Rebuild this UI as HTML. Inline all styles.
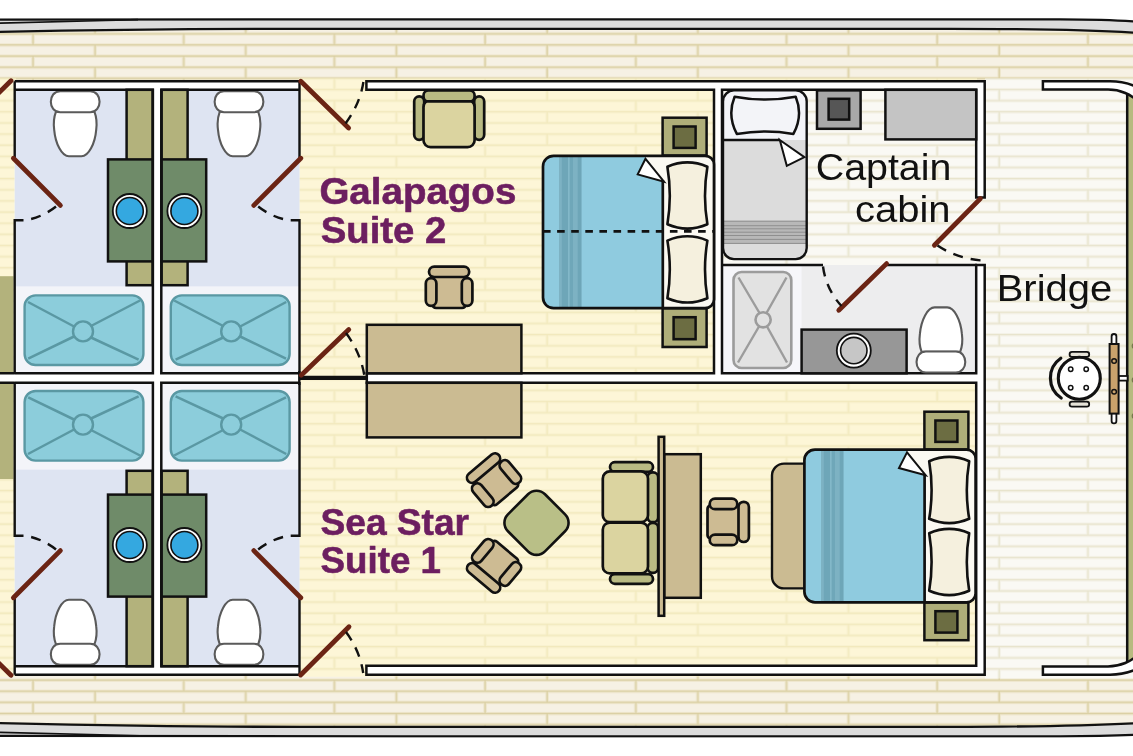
<!DOCTYPE html>
<html><head><meta charset="utf-8"><title>Deck plan</title>
<style>
html,body{margin:0;padding:0;background:#fff;overflow:hidden}
svg{display:block}
text{font-family:"Liberation Sans",sans-serif}
</style></head><body>
<svg width="1133" height="756" viewBox="0 0 1133 756">
<defs>
<g id="toilet" fill="#fff" stroke="#5a5a5a" stroke-width="2.1" stroke-linejoin="round">
<path d="M-19.3,20.6C-21.2,25.6 -21.8,32.6 -21,38.6C-19.8,52.6 -13.3,65.1 -6.3,65.1H6.3C13.3,65.1 19.8,52.6 21,38.6C21.8,32.6 21.2,25.6 19.3,20.6Z"/>
<path d="M-15,0H15C27.5,0 27.5,21 15,21H-15C-27.5,21 -27.5,0 -15,0Z"/>
</g>
<!-- plank patterns: rows 11.143 high, joints every 150.7 -->
<pattern id="pd" x="3" y="28.8" width="150.7" height="22.286" patternUnits="userSpaceOnUse">
<rect width="151" height="23" fill="#f6f1e4"/>
<path d="M0,5H151M0,16.143H151M30,5V16.143M92,16.143V23M92,0V5" stroke="#eee6cc" stroke-width="3.4" fill="none"/>
<path d="M0,5H151M0,16.143H151M30,5V16.143M92,16.143V23M92,0V5" stroke="#d9cea0" stroke-width="1.2" fill="none"/>
</pattern>
<pattern id="py" x="3" y="28.8" width="150.7" height="22.286" patternUnits="userSpaceOnUse">
<rect width="151" height="23" fill="#fdf6d7"/>
<path d="M0,5H151M0,16.143H151M30,5V16.143M92,16.143V23M92,0V5" stroke="#f9f2d0" stroke-width="3.4" fill="none"/>
<path d="M0,5H151M0,16.143H151M30,5V16.143M92,16.143V23M92,0V5" stroke="#f2e9bd" stroke-width="1.2" fill="none"/>
</pattern>
<pattern id="pw" x="3" y="28.8" width="150.7" height="22.286" patternUnits="userSpaceOnUse">
<rect width="151" height="23" fill="#faf9f4"/>
<path d="M0,5H151M0,16.143H151M30,5V16.143M92,16.143V23M92,0V5" stroke="#f4f2e7" stroke-width="3.4" fill="none"/>
<path d="M0,5H151M0,16.143H151M30,5V16.143M92,16.143V23M92,0V5" stroke="#e8e4cd" stroke-width="1.2" fill="none"/>
</pattern>
</defs>

<!-- DECK -->
<rect x="0" y="27" width="1133" height="702" fill="url(#pd)"/>

<!-- FLOORS -->
<g id="floors">
<rect x="0" y="78.3" width="16" height="598.4" fill="url(#py)"/>
<rect x="299" y="78.3" width="678" height="598.4" fill="url(#py)"/>
<rect x="722" y="80" width="264" height="186" fill="url(#pw)"/>
<path d="M985,78.3H1133V678.4H985Z" fill="url(#pw)"/>
</g>

<!-- HULL -->
<g id="hull" stroke="#111" stroke-width="2.3" fill="#dcdcdc" stroke-linejoin="round">
<path d="M-3,19.7C80,19.2 200,19 400,19.3L1060,19.3C1090,19.4 1115,20 1136,21.5L1136,32.8C1090,29.9 1010,28.8 950,28.8L260,28.8C170,28.9 80,30 -3,32Z"/>
<path d="M-3,23.1C40,22.3 90,20.9 138,19.7" fill="none" stroke-width="1.7"/>
<path d="M-3,735.8C80,736.3 200,736.5 400,736.3L1060,736.3C1090,736.2 1115,735.7 1136,734.7L1136,723.2C1090,725.6 1010,726.8 950,726.9L300,726.9C200,726.8 90,725 -3,723Z"/>
<path d="M-3,732.4C40,733.2 90,734.6 150,736" fill="none" stroke-width="1.7"/>
</g>
<rect x="0" y="0" width="1133" height="18" fill="#fff"/>
<rect x="0" y="737.7" width="1133" height="19" fill="#fff"/>

<!-- ===== BATHROOM BLOCK ===== -->
<g id="bathblock">
<rect x="14.7" y="81.3" width="284.6" height="593.4" fill="#fff"/>
<!-- horizontal wall to left edge -->
<rect x="0" y="373.3" width="16" height="9.5" fill="#fff"/>
<!-- olive blocks at far left -->
<rect x="-3" y="276.2" width="16.5" height="97.1" fill="#b3b27c"/>
<rect x="-3" y="382.8" width="16.5" height="96.2" fill="#b3b27c"/>
<path d="M-3,373.3H14.7M-3,382.8H14.7" stroke="#111" stroke-width="2.5" fill="none"/>
<defs>
<g id="bath">
 <!-- room fill -->
 <rect x="14.7" y="89.8" width="138.2" height="197" fill="#dee4f2"/>
 <rect x="14.7" y="286.5" width="138.2" height="86.8" fill="#f3f4f9"/>
 <!-- olive counter strip -->
 <rect x="126.6" y="89.8" width="26" height="195.4" fill="#b3b27c" stroke="#111" stroke-width="2.5"/>
 <!-- green vanity -->
 <rect x="108" y="159.4" width="44.6" height="102" fill="#6f8b69" stroke="#111" stroke-width="2.5"/>
 <circle cx="129.8" cy="211" r="17" fill="#fff" stroke="#111" stroke-width="1.8"/>
 <circle cx="129.8" cy="211" r="13.5" fill="#34a8e0" stroke="#111" stroke-width="1.6"/>
 <!-- toilet -->
 <use href="#toilet" transform="translate(75.2,91.2)"/>
 <!-- shower pan -->
 <rect x="24.6" y="295.4" width="118.8" height="69.6" rx="11" ry="11" fill="#8ccddb" stroke="#5a98a3" stroke-width="2.4"/>
 <path d="M28,302L75,327M140,300.5L91,326M28.2,358.6L74,336.5M138.6,359.6L91,337.5" stroke="#5a98a3" stroke-width="2.5" fill="none"/>
 <circle cx="83" cy="331.4" r="10" fill="#8ccddb" stroke="#5a98a3" stroke-width="2.4"/>
 <!-- inner wall lines -->
 <path d="M14.7,89.8H152.9V373.3H14.7" fill="none" stroke="#111" stroke-width="2.5"/>
 <!-- outer left wall with door gap -->
 <path d="M14.7,81.3V158M23.5,220.3H14.7V374" fill="none" stroke="#111" stroke-width="2.4"/>
 <!-- door -->
 <path d="M13.4,158.2L60.4,205.4" stroke="#6b2414" stroke-width="4.8" stroke-linecap="round" fill="none"/>
 <path d="M56,206.5C48,213 36,219 24,220.3" stroke="#111" stroke-width="2.4" stroke-dasharray="10,8" fill="none"/>
</g>
</defs>
<use href="#bath"/>
<use href="#bath" transform="translate(314.2,0) scale(-1,1)"/>
<use href="#bath" transform="translate(0,756) scale(1,-1)"/>
<use href="#bath" transform="translate(314.2,756) scale(-1,-1)"/>
<path d="M14.7,81.3H299.5M14.7,674.7H299.5M299.3,371V385" stroke="#111" stroke-width="2.4" fill="none"/>
<!-- partial doors of next block on far left -->
<path d="M-2,93.5L11,80.8M-2,662.5L11,675.2" stroke="#6b2414" stroke-width="4.8" stroke-linecap="round" fill="none"/>
</g>

<!-- ===== SUITE / CABIN WALLS ===== -->
<g id="mainwalls">
<!-- captain bath floor -->
<rect x="722" y="265" width="255" height="109" fill="#ededee"/>
<rect x="722" y="265" width="79.6" height="109" fill="#f6f6fa"/>
<!-- door-threshold line between suites -->
<path d="M299.3,377.8H367" stroke="#111" stroke-width="4.2" fill="none"/>
<path d="M366.4,81.3H984.7V197.5H976.2V89.8H722V373.3H976.2V265H984.7V674.7H366.4V665.8H976.2V382.8H366.8V373.3H714V89.8H366.4Z" fill="#fff" stroke="#111" stroke-width="2.5" stroke-linejoin="miter"/>
<!-- captain bath top wall (single line with door gap) -->
<path d="M722,265H823M886.4,265H977" stroke="#111" stroke-width="2.6" fill="none"/>
<!-- bridge walls -->
<path d="M1127.2,92L1138,95V661L1127.2,664Z" fill="#b7ba80" stroke="#111" stroke-width="2.5"/>
<path d="M1042.9,81.3H1110C1121,81.3 1129,83.2 1138,87.4V102C1132,94.5 1120,89.6 1108,89.6H1042.9Z" fill="#fff" stroke="#111" stroke-width="2.5"/>
<path d="M1042.9,674.7H1110C1121,674.7 1129,672.8 1138,668.6V654C1132,661.5 1120,666.4 1108,666.4H1042.9Z" fill="#fff" stroke="#111" stroke-width="2.5"/>
<circle cx="1134.6" cy="346" r="3" fill="#77784c"/><circle cx="1134.6" cy="380" r="3" fill="#77784c"/><circle cx="1134.6" cy="416" r="3" fill="#77784c"/>
</g>
<!-- ===== DOORS ===== -->
<g id="doors" fill="none">
<g stroke="#6b2414" stroke-width="4.8" stroke-linecap="round">
<path d="M300.8,81.2L348.6,128"/>
<path d="M301.2,375.2L348.8,329.6"/>
<path d="M300.6,675L349,626.8"/>
<path d="M980.4,198.6L934.4,245.2"/>
<path d="M886.6,263.6L838.8,310.2"/>
</g>
<g stroke="#111" stroke-width="2.4" stroke-dasharray="10,8">
<path d="M345.5,123.5C354,112 361,98 363.4,82" />
<path d="M346,333C355,345 362,360 364.4,376"/>
<path d="M346,632C355,644 361,658 363.2,673"/>
<path d="M937.5,245.5C950,254 966,259.5 983,260.6"/>
<path d="M823,266.5C825,282 832,296 841.5,306"/>
</g>
</g>

<!--WALLS-->
<!--FIXTURES-->
<!-- ===== SUITE 2 FURNITURE ===== -->
<defs>
<!-- small tan chair, back on top, origin at centre -->
<g id="chair" fill="#cdbb93" stroke="#111" stroke-width="2.7" stroke-linejoin="round">
 <path d="M-16.6,-12H16.6V16.5C16.6,18.6 15,20 13,20H-13C-15,20 -16.6,18.6 -16.6,16.5Z"/>
 <rect x="-20.1" y="-21.4" width="40.2" height="10.4" rx="5.2" ry="5.2"/>
 <rect x="-23.3" y="-9.8" width="10.6" height="27.6" rx="5.3" ry="5.3"/>
 <rect x="12.7" y="-9.8" width="10.6" height="27.6" rx="5.3" ry="5.3"/>
</g>
<!-- pillow (vertical), origin top-left corner; 40 wide, 57.6 tall corners -->
<path id="pillow" d="M0,0Q20,-8.6 40,0Q35.2,28.8 40,57.6Q20,66.2 0,57.6Q4.8,28.8 0,0Z" fill="#f5f0de" stroke="#111" stroke-width="2.6" stroke-linejoin="round"/>
<!-- nightstand 44x38 -->
<g id="nstand" stroke="#111" stroke-width="2.5">
 <rect x="0" y="0" width="44" height="37.8" fill="#afae79"/>
 <rect x="11" y="8.8" width="22" height="21.4" fill="#6c6d42"/>
</g>
</defs>

<g id="suite2">
<!-- armchair -->
<g stroke="#111" stroke-width="2.7" stroke-linejoin="round">
 <rect x="414.2" y="96.4" width="10" height="43.4" rx="5" ry="5" fill="#b9ba83"/>
 <rect x="474.2" y="96.4" width="10" height="43.4" rx="5" ry="5" fill="#b9ba83"/>
 <rect x="423.5" y="100" width="51.1" height="47.2" rx="7" ry="7" fill="#dbd4a0"/>
 <rect x="423.5" y="90.4" width="51.1" height="11" rx="5" ry="5" fill="#b9ba83"/>
</g>
<use href="#chair" transform="translate(449.1,288)"/>
<!-- wardrobes -->
<rect x="366.8" y="324.8" width="154.6" height="48.5" fill="#cbbb92" stroke="#111" stroke-width="2.5"/>
<rect x="366.8" y="382.8" width="154.6" height="54.6" fill="#cbbb92" stroke="#111" stroke-width="2.5"/>
<!-- nightstands -->
<use href="#nstand" transform="translate(662.6,117.7)"/>
<use href="#nstand" transform="translate(662.6,308.2) scale(1,1.026)"/>
<!-- bed -->
<path d="M553.6,155.8H705C710,155.8 714,159.5 714,164.5V299.5C714,304.5 710,308.2 705,308.2H553.6C547.7,308.2 543,303.5 543,297.6V166.4C543,160.5 547.7,155.8 553.6,155.8Z" fill="#fbf9f2"/>
<path d="M553.6,155.8H644.5L662.8,181.3V308.2H553.6C547.7,308.2 543,303.5 543,297.6V166.4C543,160.5 547.7,155.8 553.6,155.8Z" fill="#8fcbdf"/>
<g id="stripes"><rect x="559" y="156" width="22.4" height="152" fill="#7db2c3"/>
<rect x="561.8" y="156" width="6.4" height="152" fill="#6ea6b8"/>
<rect x="568.2" y="156" width="1.5" height="152" fill="#86bbcb"/>
<rect x="569.7" y="156" width="3.3" height="152" fill="#6fa7b9"/>
<rect x="577.7" y="156" width="3.7" height="152" fill="#6ea6b8"/></g>
<path d="M553.6,155.8H705C710,155.8 714,159.5 714,164.5V299.5C714,304.5 710,308.2 705,308.2H553.6C547.7,308.2 543,303.5 543,297.6V166.4C543,160.5 547.7,155.8 553.6,155.8ZM662.8,180V308.2" fill="none" stroke="#111" stroke-width="2.7"/>
<use href="#pillow" transform="translate(667.4,166.7)"/>
<use href="#pillow" transform="translate(667.4,240.6)"/>
<path d="M645.5,158.8L637.7,174.4L664,181.6Z" fill="#fff" stroke="#111" stroke-width="2" stroke-linejoin="miter"/>
<path d="M543,231.4H714" stroke="#111" stroke-width="2.6" stroke-dasharray="7.6,6.5" fill="none"/>
</g>

<!-- ===== CAPTAIN CABIN ===== -->
<g id="captain">
<path d="M734,90.4H795.7C801.8,90.4 806.7,95.3 806.7,101.4V248.1C806.7,254.2 801.8,259.1 795.7,259.1H734C727.9,259.1 723,254.2 723,248.1V101.4C723,95.3 727.9,90.4 734,90.4Z" fill="#dcdcdc"/>
<path d="M734,90.4H795.7C801.8,90.4 806.7,95.3 806.7,101.4V140H723V101.4C723,95.3 727.9,90.4 734,90.4Z" fill="#f3f4f8"/>
<rect x="723" y="220.8" width="83.7" height="23" fill="#b8b8b8"/>
<path d="M723,221.2H806.7M723,225.7H806.7M723,228.8H806.7M723,232.2H806.7M723,235.5H806.7M723,239.4H806.7M723,243.4H806.7" stroke="#8f8f8f" stroke-width="1" fill="none"/>
<path d="M734,90.4H795.7C801.8,90.4 806.7,95.3 806.7,101.4V248.1C806.7,254.2 801.8,259.1 795.7,259.1H734C727.9,259.1 723,254.2 723,248.1V101.4C723,95.3 727.9,90.4 734,90.4ZM723,140H780" fill="none" stroke="#111" stroke-width="2.4"/>
<path d="M734.6,96.7Q765.2,102.4 795.7,96.7Q803.4,115.3 793.4,133.9Q765.2,129.2 736.8,133.9Q727,115.3 734.6,96.7Z" fill="#f3f4f8" stroke="#111" stroke-width="2.5" stroke-linejoin="round"/>
<path d="M779.8,140L804.4,157.1L786.8,165.8Z" fill="#fff" stroke="#111" stroke-width="2"/>
<!-- nightstand grey -->
<rect x="817" y="90.4" width="43.6" height="38.4" fill="#a8a8a8" stroke="#111" stroke-width="2.5"/>
<rect x="828.6" y="98.8" width="20.6" height="20.8" fill="#565656" stroke="#111" stroke-width="2.5"/>
<!-- desk grey -->
<rect x="885.4" y="89.8" width="90.8" height="49.6" fill="#c4c4c4" stroke="#111" stroke-width="2.5"/>
<!-- bath: shower pan -->
<rect x="733.5" y="272" width="57.8" height="96" rx="8" ry="8" fill="#e2e2e2" stroke="#9c9c9c" stroke-width="2.6"/>
<path d="M738.5,277.5L759.5,313M786.5,277.5L766.5,313M738,362.5L759,326.5M787,362.5L767,326.5" stroke="#9c9c9c" stroke-width="2.4" fill="none"/>
<circle cx="763.1" cy="319.8" r="7.6" fill="#e2e2e2" stroke="#9c9c9c" stroke-width="2.6"/>
<!-- vanity -->
<rect x="801.6" y="329.6" width="105" height="43.7" fill="#979797" stroke="#111" stroke-width="2.5"/>
<circle cx="853.8" cy="350.6" r="17" fill="#fff" stroke="#111" stroke-width="1.8"/>
<circle cx="853.8" cy="350.6" r="13.2" fill="#c6c6c6" stroke="#111" stroke-width="1.6"/>
<!-- toilet -->
<use href="#toilet" transform="translate(940.9,372.5) scale(1,-1)"/>
</g>

<!-- ===== SUITE 1 FURNITURE ===== -->
<g id="suite1">
<!-- rotated chairs and side table -->
<use href="#chair" transform="translate(494,480.5) rotate(-40)"/>
<use href="#chair" transform="translate(494,565.5) rotate(-140)"/>
<rect x="-26.2" y="-26.2" width="52.4" height="52.4" rx="12" ry="12" transform="translate(536.5,522.8) rotate(45)" fill="#b9bf87" stroke="#111" stroke-width="2.6"/>
<!-- sofa -->
<g stroke="#111" stroke-width="2.7" stroke-linejoin="round">
 <rect x="610" y="462.2" width="43" height="9.6" rx="4.8" ry="4.8" fill="#b9ba83"/>
 <rect x="610" y="574.2" width="43" height="9.6" rx="4.8" ry="4.8" fill="#b9ba83"/>
 <rect x="647.6" y="472.4" width="10.6" height="49.8" rx="5" ry="5" fill="#b9ba83"/>
 <rect x="647.6" y="523" width="10.6" height="49.8" rx="5" ry="5" fill="#b9ba83"/>
 <rect x="602.8" y="471.4" width="45.2" height="50.8" rx="7" ry="7" fill="#dbd4a0"/>
 <rect x="602.8" y="522.6" width="45.2" height="50.8" rx="7" ry="7" fill="#dbd4a0"/>
</g>
<!-- divider + desk -->
<rect x="664.2" y="454.2" width="36.6" height="143.6" fill="#cbbb92" stroke="#111" stroke-width="2.5"/>
<rect x="658.6" y="436.8" width="5.6" height="179" fill="#cbbb92" stroke="#111" stroke-width="2.5"/>
<use href="#chair" transform="translate(727.5,521.9) rotate(90)"/>
<!-- bench -->
<path d="M808,463.6H784C777.4,463.6 772,469 772,475.6V576.4C772,583 777.4,588.4 784,588.4H808Z" fill="#cbbb92" stroke="#111" stroke-width="2.4"/>
<!-- nightstands -->
<use href="#nstand" transform="translate(924.4,411.7)"/>
<use href="#nstand" transform="translate(924.4,602.4)"/>
<!-- bed -->
<path d="M815,449.7H966.5C971.5,449.7 975.6,453.6 975.6,458.6V593.4C975.6,598.4 971.5,602.4 966.5,602.4H815C809.1,602.4 804.4,597.7 804.4,591.8V460.3C804.4,454.4 809.1,449.7 815,449.7Z" fill="#fbf9f2"/>
<path d="M815,449.7H906L924.6,475V602.4H815C809.1,602.4 804.4,597.7 804.4,591.8V460.3C804.4,454.4 809.1,449.7 815,449.7Z" fill="#8fcbdf"/>
<use href="#stripes" transform="translate(262,294.2)"/>
<path d="M815,449.7H966.5C971.5,449.7 975.6,453.6 975.6,458.6V593.4C975.6,598.4 971.5,602.4 966.5,602.4H815C809.1,602.4 804.4,597.7 804.4,591.8V460.3C804.4,454.4 809.1,449.7 815,449.7ZM924.6,474V602.4" fill="none" stroke="#111" stroke-width="2.7"/>
<use href="#pillow" transform="translate(929.2,461.2)"/>
<use href="#pillow" transform="translate(929.2,533.2)"/>
<path d="M907,452.4L899,468L925.6,475.2Z" fill="#fff" stroke="#111" stroke-width="2"/>
</g>

<!-- ===== BRIDGE ===== -->
<g id="bridge">
<path d="M1060.8,358.2A24,24 0 0 0 1061.2,398" fill="none" stroke="#111" stroke-width="3.2" stroke-linecap="round"/>
<rect x="1069.6" y="351.8" width="19.6" height="5" rx="2.4" ry="2.4" fill="#e6e3d8" stroke="#111" stroke-width="1.8"/>
<rect x="1069.6" y="401.6" width="19.6" height="5" rx="2.4" ry="2.4" fill="#e6e3d8" stroke="#111" stroke-width="1.8"/>
<circle cx="1079.3" cy="378.2" r="21" fill="#fff" stroke="#111" stroke-width="3.1"/>
<g fill="#fff" stroke="#111" stroke-width="1.5">
<circle cx="1070.7" cy="369.2" r="2.2"/><circle cx="1086.2" cy="369.2" r="2.2"/><circle cx="1070.7" cy="387.8" r="2.2"/><circle cx="1086.2" cy="387.8" r="2.2"/>
</g>
<rect x="1118.6" y="376" width="9" height="4.6" fill="#fff" stroke="#111" stroke-width="1.8"/>
<path d="M1111.6,346V336.4C1111.6,333.2 1116.4,333.2 1116.4,336.4V346ZM1111.6,412V421C1111.6,424.2 1116.4,424.2 1116.4,421V412Z" fill="#fff" stroke="#111" stroke-width="1.8"/>
<rect x="1109.6" y="344" width="9" height="69.6" fill="#c9a26c" stroke="#111" stroke-width="2"/>
<circle cx="1114.1" cy="361" r="2.3" fill="#c9a26c" stroke="#111" stroke-width="1.5"/>
<circle cx="1114.1" cy="391.7" r="2.3" fill="#c9a26c" stroke="#111" stroke-width="1.5"/>
</g>

<!--FURNITURE-->
<!-- ===== LABELS ===== -->
<g font-weight="bold" font-size="37.4" fill="#6c1e60" stroke="#6c1e60" stroke-width="0.6" stroke-linejoin="round" opacity="0.999">
<text transform="translate(319.4,203.8) scale(1.03,1)">Galapagos</text>
<text transform="translate(320.8,242.7) scale(1.024,1)">Suite 2</text>
<text transform="translate(320.5,534.8) scale(0.993,1)">Sea Star</text>
<text transform="translate(320.6,573.1) scale(0.982,1)">Suite 1</text>
</g>
<g font-size="37.6" fill="#111" opacity="0.999">
<text transform="translate(951.4,180) scale(1.047,1)" text-anchor="end">Captain</text>
<text transform="translate(950.6,222.3) scale(1.064,1)" text-anchor="end">cabin</text>
<text transform="translate(996.7,300.8) scale(1.063,1)">Bridge</text>
</g>

<!--TEXT-->
</svg>
</body></html>
